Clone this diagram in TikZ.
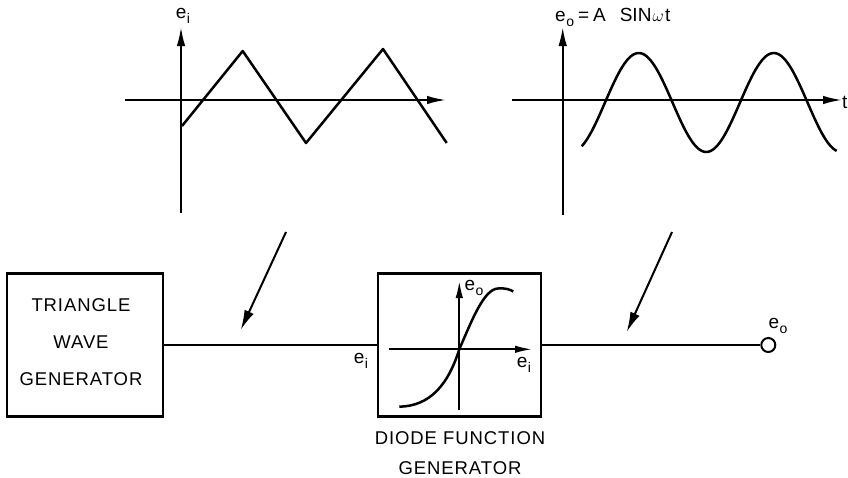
\documentclass[tikz,border=0pt]{standalone}
\usepackage{fontspec}
\setmainfont{Liberation Sans}
\newfontfamily\spaced[LetterSpace=5]{Liberation Sans}
\usetikzlibrary{arrows.meta}
\newcommand\sigsub[2]{#1\kern0.5pt\raisebox{-0.5ex}{\fontsize{14}{15}\selectfont #2}}
\tikzset{
  axisline/.style={line width=2pt, -{Latex[length=19pt,width=8.5pt]}},
  smallaxis/.style={line width=1.9pt, -{Latex[length=17pt,width=7.5pt]}},
  curve/.style={line width=2.5pt, line join=round},
  blockbox/.style={draw, line width=2.1pt, inner sep=0pt},
  wire/.style={line width=2.1pt},
  pointer/.style={line width=2pt, -{Latex[length=20pt,width=10pt]}},
  lbl/.style={font=\fontsize{19}{22}\selectfont, inner sep=0pt},
  captext/.style={font=\spaced\fontsize{18.5}{37}\selectfont, inner sep=0pt, align=center},
}
\begin{document}
\begin{tikzpicture}[x=1pt,y=-1pt]
\useasboundingbox (0,0) rectangle (848,477);
% ---------- triangle wave plot ----------
\coordinate (tyb) at (181,213);
\coordinate (tyt) at (181,27);
\coordinate (txl) at (125,100);
\coordinate (txr) at (446,100);
\draw[axisline] (tyb) -- (tyt);
\draw[axisline] (txl) -- (txr);
\node[lbl] (tlab) at (183,16) {\sigsub{e}{i}};
\coordinate (t0) at (182,126);
\coordinate (t1) at (242.7,51);
\coordinate (t2) at (306,143);
\coordinate (t3) at (383,49);
\coordinate (t4) at (446.7,143);
\draw[curve] (t0) -- (t1) -- (t2) -- (t3) -- (t4);
% ---------- sine wave plot ----------
\coordinate (syb) at (562.7,215);
\coordinate (syt) at (562.7,27);
\coordinate (sxl) at (511.7,100);
\coordinate (sxr) at (842,100);
\draw[axisline] (syb) -- (syt);
\draw[axisline] (sxl) -- (sxr);
\node[lbl, anchor=west] (slab) at (555,17) {\sigsub{e}{o}\kern4pt=\kern4ptA\kern14pt SIN\kern1pt$\omega$\kern1.5pt t};
\node[lbl, anchor=west] (tlabel) at (842,102) {t};
\draw[curve] plot[domain=581.7:836.7, samples=120, smooth] (\x, {102.5 - 49.5*sin((\x-605)*2.6667)});
% ---------- blocks ----------
\node[blockbox, minimum width=156pt, minimum height=143pt] (tri) at (85.3,345) {};
\node[captext] (tritext) at (81,342) {TRIANGLE\\WAVE\\GENERATOR};
\node[blockbox, minimum width=162.7pt, minimum height=143pt] (dfg) at (459.7,345) {};
\node[captext, font=\spaced\fontsize{18.5}{29.5}\selectfont] (dcap) at (460,453) {DIODE FUNCTION\\GENERATOR};
\draw[wire] (tri.east) -- (dfg.west);
\node[lbl] (eiin) at (361,361) {\sigsub{e}{i}};
% diode characteristic
\coordinate (dyb) at (459.3,410);
\coordinate (dyt) at (459.3,281);
\coordinate (dxl) at (389.3,349.3);
\coordinate (dxr) at (532,349.3);
\draw[smallaxis] (dyb) -- (dyt);
\draw[smallaxis] (dxl) -- (dxr);
\draw[curve] (399.3,406.7) .. controls (430,406) and (448,385) .. (459.3,349.3)
  .. controls (472,320) and (484,289) .. (498,288.5)
  .. controls (506,288) and (510,289.5) .. (513.3,291.5);
\node[lbl] (eoin) at (474,288) {\sigsub{e}{o}};
\node[lbl] (eiax) at (524,365) {\sigsub{e}{i}};
% output
\node[draw, circle, line width=2pt, minimum size=14pt, inner sep=0pt] (out) at (768.3,345) {};
\draw[wire] (dfg.east) -- (out.west);
\node[lbl] (eoout) at (778,326) {\sigsub{e}{o}};
% pointers
\coordinate (p1s) at (286,232);
\coordinate (p1e) at (240.7,330);
\coordinate (p2s) at (672,232);
\coordinate (p2e) at (626.7,332);
\draw[pointer] (p1s) -- (p1e);
\draw[pointer] (p2s) -- (p2e);
\end{tikzpicture}
\end{document}
